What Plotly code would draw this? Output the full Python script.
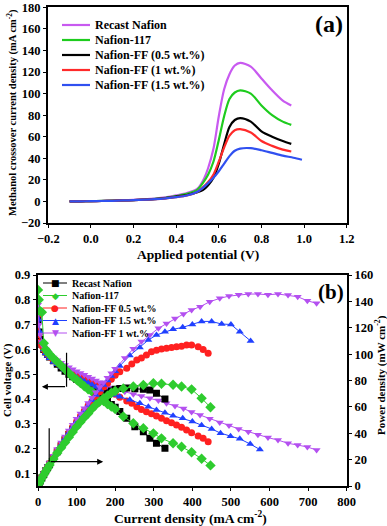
import plotly.graph_objects as go

W, H = 387, 526
FONT = "Liberation Serif"

def PX(x):
    return x / W

def PY(y):
    return 1 - y / H

# ---------------- (a) LSV methanol crossover ----------------
xa = [-0.10, -0.05, 0.00, 0.05, 0.10, 0.15, 0.20, 0.25, 0.30, 0.35, 0.40, 0.45,
      0.50, 0.525, 0.55, 0.575, 0.60, 0.625, 0.65, 0.675, 0.70, 0.75, 0.80,
      0.85, 0.90, 0.94]
a_recast = [0, 0.1, 0.3, 0.5, 0.8, 1.1, 1.5, 2.0, 2.7, 3.8, 5.6, 7.8,
            12, 19, 31, 49, 79, 104, 118, 126, 128.5, 125, 114, 103, 93.5, 89]
a_n117 = [0, 0.1, 0.3, 0.5, 0.7, 1.0, 1.3, 1.8, 2.4, 3.4, 5.0, 7.0,
          11, 17, 25, 37, 57, 79, 95, 101, 103, 100, 89, 80, 74, 71]
a_ff05 = [0, 0.1, 0.2, 0.4, 0.6, 0.9, 1.2, 1.6, 2.2, 3.1, 4.5, 6.0,
          8.5, 10.5, 15, 22, 35, 53, 69, 75.5, 77.3, 74, 65, 60, 56, 53.4]
a_ff1 = [0, 0.1, 0.2, 0.4, 0.6, 0.9, 1.2, 1.6, 2.1, 2.9, 4.0, 5.5,
         9, 13, 18, 25, 37, 50, 61, 66, 67, 64, 56, 51.5, 48, 46.3]
xa_blue = [-0.10, -0.05, 0.00, 0.05, 0.10, 0.15, 0.20, 0.25, 0.30, 0.35, 0.40,
           0.45, 0.50, 0.525, 0.55, 0.575, 0.60, 0.625, 0.65, 0.675, 0.70,
           0.75, 0.80, 0.85, 0.90, 0.95, 0.99]
a_ff15 = [0, 0.1, 0.2, 0.4, 0.6, 0.9, 1.2, 1.6, 2.1, 2.9, 4.0, 5.5,
          9, 12.5, 17, 22, 28, 35, 42, 47, 49, 49.4, 47.5, 45, 42.5, 40.5, 38.6]

a_names = ["Recast Nafion", "Nafion-117", "Nafion-FF (0.5 wt.%)",
           "Nafion-FF (1 wt.%)", "Nafion-FF (1.5 wt.%)"]
a_colors = ["#C85AF0", "#1ECC1E", "#000000", "#FF2A2A", "#3050F0"]

# ---------------- (b) polarization / power ----------------
I_rec = [0, 3, 6, 10, 15, 20, 25, 30, 40, 50, 60, 70, 80, 90, 100, 110, 120, 130,
         140, 150, 160, 170, 180, 190, 200, 212, 230, 251, 273, 290, 307, 329]
V_rec = [0.72, 0.67, 0.64, 0.62, 0.60, 0.59, 0.58, 0.57, 0.555, 0.54, 0.525, 0.512,
         0.50, 0.49, 0.48, 0.47, 0.46, 0.45, 0.44, 0.43, 0.42, 0.405, 0.39, 0.378,
         0.367, 0.35, 0.323, 0.289, 0.269, 0.242, 0.222, 0.202]
P_rec = [0.5, 2, 3.8, 6, 8.8, 11.5, 14, 16.5, 21.5, 26, 30.5, 35, 39, 43, 46.5,
         50, 53.5, 57, 60, 63, 66, 68.5, 70.5, 72, 73.4, 74, 74.3, 73.8, 73.4,
         72.8, 70.3, 66]

I_117 = [0, 2, 5, 10, 15, 20, 25, 30, 40, 50, 60, 70, 80, 90, 100, 110, 120, 130,
         140, 150, 160, 170, 180, 190, 200, 221, 247, 273, 299, 320, 350, 372,
         398, 424, 447]
V_117 = [0.84, 0.80, 0.755, 0.75, 0.625, 0.60, 0.59, 0.58, 0.565, 0.55, 0.535,
         0.52, 0.505, 0.49, 0.478, 0.465, 0.452, 0.44, 0.43, 0.418, 0.405, 0.392,
         0.38, 0.37, 0.36, 0.33, 0.303, 0.283, 0.262, 0.242, 0.222, 0.208, 0.186,
         0.16, 0.133]
P_117 = [1, 2, 3.5, 6, 8.5, 11, 13.5, 16, 20.5, 25, 29, 33, 37, 41, 45, 48.5, 52,
         55, 58.5, 61.5, 64, 66.5, 68.5, 70.5, 72, 74, 75.5, 76.6, 77.9, 77.5,
         76.8, 75.5, 73.3, 66.5, 59.7]

I_05 = [0, 2, 5, 10, 15, 20, 25, 30, 40, 50, 60, 70, 80, 90, 100, 110, 120, 130,
        140, 150, 160, 170, 180, 190, 200, 212, 230, 243, 256, 268, 281, 294, 307,
        320, 333, 346, 359, 372, 385, 398, 415, 428, 441]
V_05 = [0.74, 0.66, 0.63, 0.615, 0.60, 0.59, 0.58, 0.57, 0.557, 0.545, 0.533,
        0.522, 0.512, 0.503, 0.495, 0.487, 0.48, 0.472, 0.465, 0.457, 0.45, 0.443,
        0.436, 0.428, 0.42, 0.408, 0.392, 0.383, 0.369, 0.358, 0.349, 0.341,
        0.332, 0.323, 0.313, 0.305, 0.296, 0.287, 0.276, 0.265, 0.251, 0.242, 0.228]
P_05 = [0.5, 2, 4, 7, 9.5, 12, 14.5, 17, 22, 27, 31.5, 36, 40.5, 45, 49, 53, 57,
        61, 64.5, 68, 71.5, 75, 78, 81, 84, 86.7, 89.2, 92.5, 95.5, 97, 99.3,
        101.8, 103, 103.9, 104.4, 105, 105.6, 106, 107, 107, 105.6, 103.6, 100.6]

I_15 = [0, 2, 5, 10, 15, 20, 25, 30, 40, 50, 60, 70, 80, 90, 100, 110, 120, 130,
        140, 150, 160, 170, 180, 190, 200, 212, 238, 264, 286, 307, 329, 350, 375,
        400, 424, 450, 473, 499, 523, 550, 575]
V_15 = [0.80, 0.72, 0.67, 0.63, 0.60, 0.585, 0.575, 0.565, 0.55, 0.54, 0.53,
        0.518, 0.507, 0.497, 0.488, 0.48, 0.472, 0.465, 0.458, 0.45, 0.443, 0.437,
        0.43, 0.423, 0.417, 0.41, 0.397, 0.383, 0.369, 0.356, 0.345, 0.333, 0.323,
        0.31, 0.295, 0.28, 0.263, 0.25, 0.24, 0.219, 0.197]
I_15p = [0, 2, 5, 10, 15, 20, 25, 30, 40, 50, 60, 70, 80, 90, 100, 110, 120, 130,
         140, 150, 160, 170, 180, 190, 200, 212, 238, 264, 286, 307, 329, 350, 375,
         400, 424, 450, 476, 500, 523, 551]
P_15 = [0.5, 2, 4, 7, 9.5, 12, 14.5, 17, 22, 27, 31.5, 36, 40.5, 45, 49, 53, 57,
        61, 65, 69, 73, 76.5, 80, 83.5, 87, 91, 99, 105, 110.7, 114.5, 117, 118.8,
        120.3, 122.5, 124.8, 124.8, 122.8, 122.5, 117, 110]

I_1 = [0, 2, 5, 10, 15, 20, 25, 30, 40, 50, 60, 70, 80, 90, 100, 110, 120, 130,
       140, 150, 160, 170, 180, 190, 200, 225, 247, 268, 290, 312, 333, 355, 377,
       398, 420, 445, 471, 495, 520, 545, 570, 596, 622, 648, 673, 698, 722]
V_1 = [0.78, 0.70, 0.66, 0.63, 0.61, 0.60, 0.59, 0.58, 0.568, 0.557, 0.547,
       0.537, 0.528, 0.52, 0.512, 0.505, 0.498, 0.49, 0.483, 0.475, 0.468, 0.46,
       0.453, 0.446, 0.44, 0.43, 0.42, 0.413, 0.403, 0.394, 0.383, 0.372, 0.362,
       0.348, 0.336, 0.321, 0.306, 0.294, 0.28, 0.269, 0.256, 0.245, 0.235,
       0.222, 0.215, 0.207, 0.195]
P_1 = [0.5, 1.5, 3.5, 6.5, 9.5, 12, 15, 17.5, 23, 28, 33, 37.5, 42, 46.5, 51, 55,
       59, 63, 67, 71, 75, 78.5, 82, 85.5, 89, 97, 104, 109.5, 114.5, 119.6,
       123.3, 127, 130.4, 133.4, 136, 139.7, 142.3, 144, 145, 145.5, 145.6, 145,
       145.6, 144.8, 143.5, 140.5, 138.5]

b_names = ["Recast Nafion", "Nafion-117", "Nafion-FF 0.5 wt.%",
           "Nafion-FF 1.5 wt.%", "Nafion-FF 1 wt.%"]
b_colors = ["#000000", "#2ECC2E", "#FF2020", "#2040FF", "#B450F0"]
b_symbols = ["square", "diamond", "circle", "triangle-up", "triangle-down"]
b_glyphs = ["\u25A0", "\u25C6", "\u25CF", "\u25B2", "\u25BC"]

fig = go.Figure()

# (a) curves
for xs, ys, c in [(xa, a_recast, a_colors[0]), (xa, a_n117, a_colors[1]),
                  (xa, a_ff05, a_colors[2]), (xa, a_ff1, a_colors[3]),
                  (xa_blue, a_ff15, a_colors[4])]:
    fig.add_trace(go.Scatter(x=xs, y=ys, mode="lines", xaxis="x", yaxis="y",
                             line=dict(color=c, width=2.2, shape="spline", smoothing=0.8),
                             showlegend=False, hoverinfo="skip"))

# (b) curves
b_data = [(I_rec, V_rec, I_rec, P_rec), (I_117, V_117, I_117, P_117),
          (I_05, V_05, I_05, P_05), (I_15, V_15, I_15p, P_15), (I_1, V_1, I_1, P_1)]
for k in [0, 2, 3, 4, 1]:
    Iv, Vv, Ip, Pv = b_data[k]
    mk = dict(symbol=b_symbols[k], size=8 if b_symbols[k] == "diamond" else 7,
              color=b_colors[k], line=dict(width=0))
    fig.add_trace(go.Scatter(x=Iv, y=Vv, mode="lines+markers", xaxis="x2", yaxis="y2",
                             line=dict(color=b_colors[k], width=1), marker=mk,
                             showlegend=False, hoverinfo="skip"))
    fig.add_trace(go.Scatter(x=Ip, y=Pv, mode="lines+markers", xaxis="x2", yaxis="y3",
                             line=dict(color=b_colors[k], width=1), marker=mk,
                             showlegend=False, hoverinfo="skip"))

tickf = dict(family=FONT, size=12.5, color="black", weight="bold")
axcommon = dict(showline=True, linecolor="black", linewidth=1.5, ticks="outside",
                ticklen=3.5, tickwidth=1.3, tickcolor="black", showgrid=False,
                zeroline=False, tickfont=tickf, automargin=False)

fig.update_layout(
    width=W, height=H, margin=dict(l=0, r=0, t=0, b=0),
    paper_bgcolor="white", plot_bgcolor="white",
    xaxis=dict(domain=[PX(48.3), PX(346.7)], anchor="y", range=[-0.2, 1.2],
               tick0=-0.2, dtick=0.2, tickformat=".1f", mirror=True, **axcommon),
    yaxis=dict(domain=[PY(223), PY(7.3)], anchor="x", range=[-20, 180],
               dtick=20, mirror=True, **axcommon),
    xaxis2=dict(domain=[PX(38), PX(346.7)], anchor="y2", range=[0, 800],
                dtick=100, mirror=True, **axcommon),
    yaxis2=dict(domain=[PY(486), PY(275)], anchor="x2", range=[0.05, 0.9],
                tickvals=[0.1, 0.2, 0.3, 0.4, 0.5, 0.6, 0.7, 0.8, 0.9],
                tickformat=".1f", **axcommon),
    yaxis3=dict(domain=[PY(486), PY(275)], anchor="x2", overlaying="y2",
                side="right", range=[0, 160], dtick=20, **axcommon),
)

ann = []
shapes = []

def label(x, y, text, size, angle=0, xanchor="center", yanchor="middle"):
    ann.append(dict(x=PX(x), y=PY(y), xref="paper", yref="paper", text=text,
                    showarrow=False, textangle=angle, xanchor=xanchor,
                    yanchor=yanchor,
                    font=dict(family=FONT, size=size, color="black", weight="bold")))

# axis titles
label(198, 254, "Applied potential (V)", 13.5)
label(12, 113, "Methanol crossover current density (mA cm<sup>-2</sup>)", 10.5, angle=-90)
label(190, 517, "Current density (mA cm<sup>-2</sup>)", 13.5)
label(7, 380, "Cell voltage (V)", 11, angle=-90)
label(380, 375, "Power density (mW cm<sup>-2</sup>)", 11, angle=-90)

# panel labels
label(329, 24, "(a)", 24)
label(331, 292, "(b)", 21)

# legend (a)
for i, (nm, c) in enumerate(zip(a_names, a_colors)):
    yy = 25 + i * 15
    shapes.append(dict(type="line", xref="paper", yref="paper", x0=PX(62), x1=PX(90),
                       y0=PY(yy), y1=PY(yy), line=dict(color=c, width=2.2)))
    label(93, yy, nm, 12, xanchor="left")

# legend (b)
for i, (nm, c, g) in enumerate(zip(b_names, b_colors, b_glyphs)):
    yy = 283 + i * 12.5
    shapes.append(dict(type="line", xref="paper", yref="paper", x0=PX(43), x1=PX(67),
                       y0=PY(yy), y1=PY(yy), line=dict(color=c, width=1)))
    ann.append(dict(x=PX(55), y=PY(yy), xref="paper", yref="paper", text=g,
                    showarrow=False, xanchor="center", yanchor="middle",
                    font=dict(family="DejaVu Sans", size=9, color=c)))
    label(70, yy, nm, 10, xanchor="left")

# arrows (b)
shapes.append(dict(type="line", xref="x2", yref="y2", x0=74, x1=74, y0=0.587, y1=0.45,
                   line=dict(color="black", width=1.2)))
ann.append(dict(x=10, y=0.45, ax=74, ay=0.45, xref="x2", yref="y2", axref="x2",
                ayref="y2", showarrow=True, arrowhead=2, arrowsize=1, arrowwidth=1.2,
                arrowcolor="black", text=" ", font=dict(size=1)))
shapes.append(dict(type="line", xref="x2", yref="y2", x0=29, x1=29, y0=0.283, y1=0.148,
                   line=dict(color="black", width=1.2)))
ann.append(dict(x=169, y=0.148, ax=29, ay=0.148, xref="x2", yref="y2", axref="x2",
                ayref="y2", showarrow=True, arrowhead=2, arrowsize=1, arrowwidth=1.2,
                arrowcolor="black", text=" ", font=dict(size=1)))

fig.update_layout(annotations=ann, shapes=shapes)
fig.write_html("out.html", config={"displayModeBar": False},
               post_script="document.body.style.margin='0px';document.body.style.padding='0px';")
